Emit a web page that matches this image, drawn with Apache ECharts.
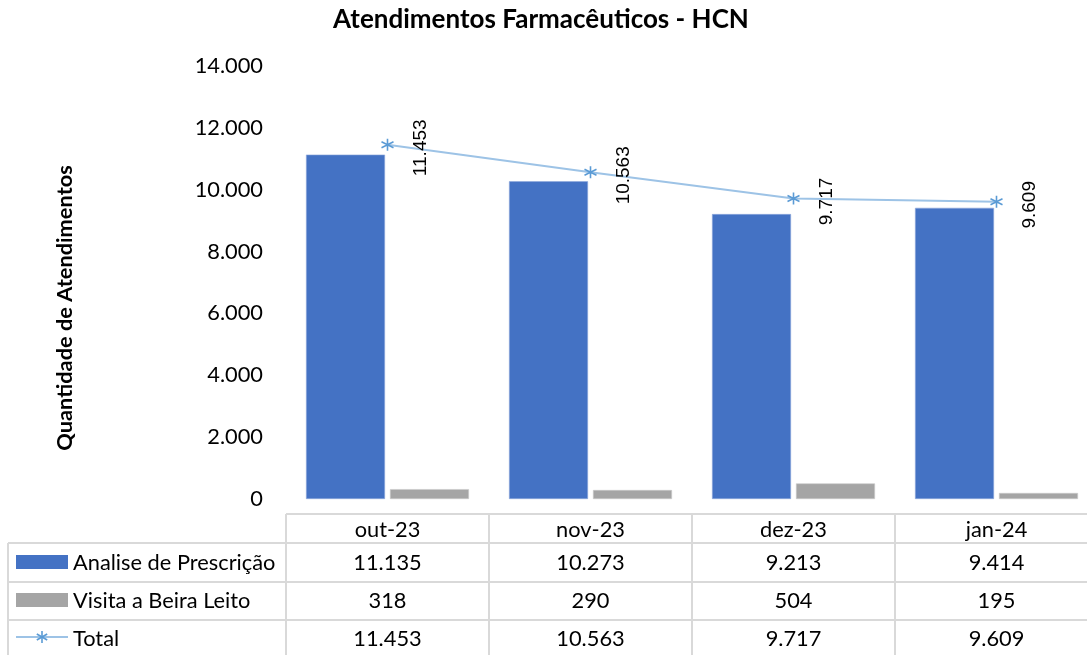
<!DOCTYPE html>
<html>
<head>
<meta charset="utf-8">
<script src="https://cdn.jsdelivr.net/npm/echarts@6/dist/echarts.min.js"></script>
<style>
html,body{margin:0;padding:0;background:#fff;overflow:hidden;width:1087px;height:655px;}
#main{width:1098px;height:655px;}
</style>
</head>
<body>
<div id="main"></div>
<script>
const title = 'Atendimentos Farmacêuticos - HCN';
const yAxisTitle = 'Quantidade de Atendimentos';
const categories = ['out-23', 'nov-23', 'dez-23', 'jan-24'];
const seriesNames = ['Analise de Prescrição', 'Visita a Beira Leito', 'Total'];
const prescricao = [11135, 10273, 9213, 9414];
const visita = [318, 290, 504, 195];
const total = [11453, 10563, 9717, 9609];

const fmt = v => String(v).replace(/\B(?=(\d{3})+(?!\d))/g, '.');
const starPath = 'path://M5,0L5,10M0.7,2.5L9.3,7.5M9.3,2.5L0.7,7.5';
const BLUE = '#4472C4', GRAY = '#A5A5A5', LINE = '#9DC3E6', STAR = '#5B9BD5';
const FONT = 'Lato';
const FS = 21.8;

const chart = echarts.init(document.getElementById('main'), null, {renderer: 'canvas'});
const option = {
  animation: false,
  backgroundColor: '#fff',
  grid: {left: 286, right: 0, top: 66, bottom: 156, containLabel: false},
  xAxis: {
    type: 'category', data: categories,
    axisLine: {show: false}, axisTick: {show: false},
    axisLabel: {margin: 20, fontFamily: FONT, fontSize: FS, color: '#000'}
  },
  yAxis: {
    type: 'value', min: 0, max: 14000, interval: 2000,
    splitLine: {show: false}, axisLine: {show: false}, axisTick: {show: false},
    axisLabel: {formatter: fmt, margin: 23, fontFamily: FONT, fontSize: FS, color: '#000'}
  },
  series: [
    {name: seriesNames[0], type: 'bar', data: prescricao, barWidth: 79, barGap: '6.3%',
     itemStyle: {color: BLUE, borderColor: '#8FAADC', borderWidth: 0.6}},
    {name: seriesNames[1], type: 'bar', data: visita, barWidth: 79,
     itemStyle: {color: GRAY, borderColor: '#C9C9C9', borderWidth: 0.6}},
    {name: seriesNames[2], type: 'line', data: total,
     symbol: starPath, symbolSize: 12,
     lineStyle: {color: LINE, width: 2},
     itemStyle: {color: STAR, borderColor: STAR, borderWidth: 1.6},
     label: {show: true, position: 'inside', rotate: 90, offset: [-3, 33],
             formatter: p => fmt(p.value), fontFamily: 'Liberation Sans', fontSize: 19, color: '#000'}}
  ]
};
chart.setOption(option);

// Data table drawn under the plot, aligned with the category axis
const xs = categories.map((c, i) => chart.convertToPixel({xAxisIndex: 0}, i));
const band = xs.length > 1 ? xs[1] - xs[0] : 200;
const colLeft = xs[0] - band / 2;
const colRight = xs[xs.length - 1] + band / 2;
const rowTops = [514, 543, 582, 620];
const rowCenters = [530, 563, 601, 639];
const tableLeft = 8;
const lc = '#D9D9D9';
const els = [];
els.push({type: 'text', x: 541, y: 20,
  style: {text: title, fill: '#000', font: 'bold 26px ' + FONT, align: 'center', verticalAlign: 'middle'}});
const hline = (x1, x2, y) => els.push({type: 'line', shape: {x1, y1: y, x2, y2: y}, style: {stroke: lc, lineWidth: 2}, silent: true});
const vline = (x, y1, y2) => els.push({type: 'line', shape: {x1: x, y1, x2: x, y2}, style: {stroke: lc, lineWidth: 2}, silent: true});
hline(colLeft, colRight, rowTops[0]);
for (let r = 1; r < rowTops.length; r++) hline(tableLeft, colRight, rowTops[r]);
vline(tableLeft, rowTops[1], 655);
for (let i = 0; i <= categories.length; i++) vline(colLeft + i * band, rowTops[0], 655);
const rows = [prescricao, visita, total];
rows.forEach((arr, r) => {
  const cy = rowCenters[r + 1];
  arr.forEach((v, i) => {
    els.push({type: 'text', x: xs[i], y: cy, style: {text: fmt(v), fill: '#000', font: FS + 'px ' + FONT, align: 'center', verticalAlign: 'middle'}});
  });
  els.push({type: 'text', x: 73, y: cy, style: {text: seriesNames[r], fill: '#000', font: FS + 'px ' + FONT, align: 'left', verticalAlign: 'middle'}});
});
// legend keys
els.push({type: 'rect', shape: {x: 16, y: rowCenters[1] - 8, width: 52, height: 14}, style: {fill: BLUE}});
els.push({type: 'rect', shape: {x: 16, y: rowCenters[2] - 8, width: 52, height: 14}, style: {fill: GRAY}});
els.push({type: 'line', shape: {x1: 16, y1: rowCenters[3] - 2, x2: 68, y2: rowCenters[3] - 2}, style: {stroke: LINE, lineWidth: 2}});
const sc = [42, rowCenters[3] - 2];
[[0, -6, 0, 6], [-5.2, -3, 5.2, 3], [5.2, -3, -5.2, 3]].forEach(s => {
  els.push({type: 'line', shape: {x1: sc[0] + s[0], y1: sc[1] + s[1], x2: sc[0] + s[2], y2: sc[1] + s[3]}, style: {stroke: STAR, lineWidth: 1.6}});
});
// y axis title
els.push({type: 'text', x: 65, y: 308, rotation: Math.PI / 2,
  style: {text: yAxisTitle, fill: '#000', font: 'bold ' + FS + 'px ' + FONT, align: 'center', verticalAlign: 'middle'}});
chart.setOption({graphic: {elements: els}});
</script>
</body>
</html>
